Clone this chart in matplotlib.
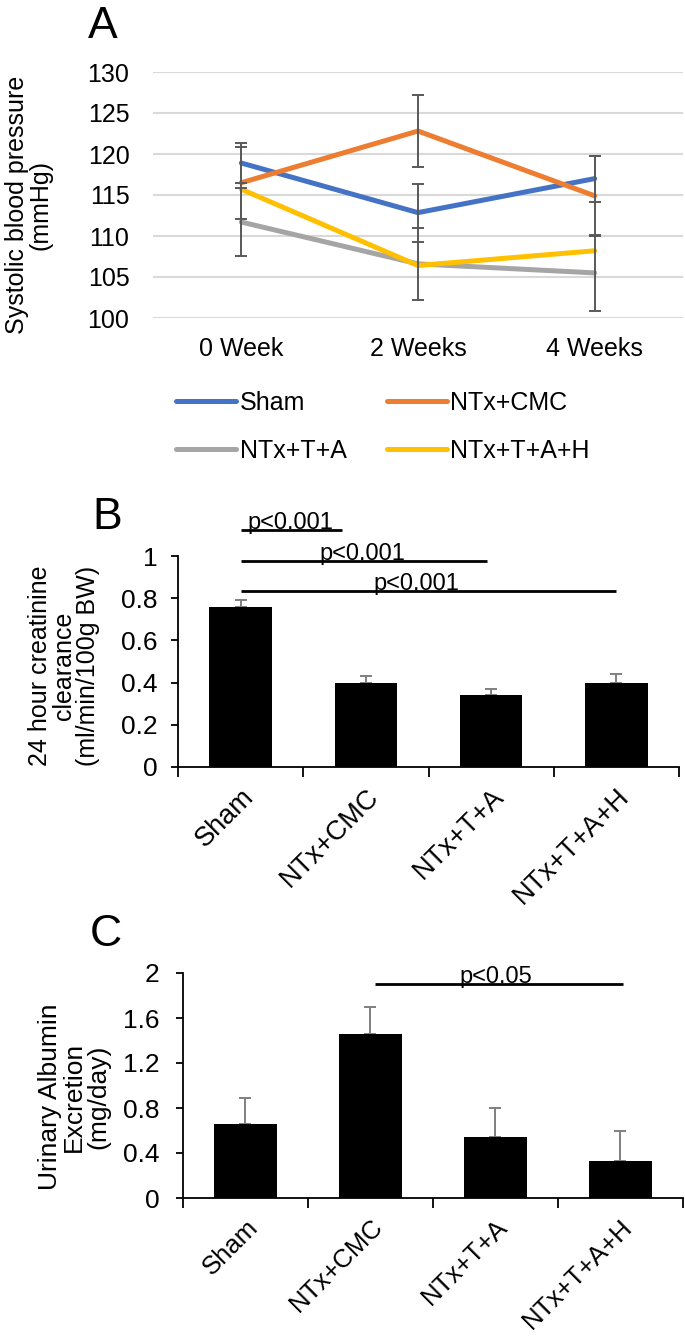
import matplotlib
matplotlib.use("Agg")
import matplotlib.pyplot as plt
import numpy as np

plt.rcParams['font.family'] = ['Liberation Sans', 'DejaVu Sans']

# panel A - systolic blood pressure
weeks = ["0 Week", "2 Weeks", "4 Weeks"]
sbp_sham = [118.9, 112.85, 117.0]
sbp_cmc = [116.5, 122.8, 114.9]
sbp_ta = [111.7, 106.6, 105.5]
sbp_tah = [115.7, 106.4, 108.2]
sbp_sham_err = [2.4, 3.55, 2.8]
sbp_cmc_err = [4.4, 4.4, 4.9]
sbp_ta_err = [4.1, 4.35, 4.6]

# panel B - creatinine clearance
groups = ["Sham", "NTx+CMC", "NTx+T+A", "NTx+T+A+H"]
ccr = [0.76, 0.40, 0.34, 0.40]
ccr_err = [0.03, 0.03, 0.03, 0.04]
ccr_sig = [(0, 0.81, 1.123, 0.40), (0, 1.97, 0.976, 0.97), (0, 3.0, 0.834, 1.40)]

# panel C - urinary albumin
uae = [0.66, 1.46, 0.54, 0.325]
uae_err = [0.23, 0.24, 0.26, 0.275]
uae_sig = [(1.04, 3.02, 1.906, 2.0)]

colors = {"Sham": "#4472C4", "NTx+CMC": "#ED7D31", "NTx+T+A": "#A5A5A5", "NTx+T+A+H": "#FFC000"}

W, H = 685, 1338
fig = plt.figure(figsize=(W / 100, H / 100), dpi=100)

def box(left, right, top, bottom):
    return [left / W, 1 - bottom / H, (right - left) / W, (bottom - top) / H]

# ---- A ----
ax = fig.add_axes(box(153, 683, 72, 318))
x = np.arange(len(weeks))
series = [("Sham", sbp_sham, sbp_sham_err), ("NTx+CMC", sbp_cmc, sbp_cmc_err),
          ("NTx+T+A", sbp_ta, sbp_ta_err), ("NTx+T+A+H", sbp_tah, None)]
lines = {}
for name, vals, err in series:
    l, = ax.plot(x, vals, color=colors[name], lw=3.6, solid_capstyle="round", zorder=3, label=name)
    lines[name] = l
    if err is not None:
        ax.errorbar(x, vals, yerr=err, fmt="none", ecolor="#595959", elinewidth=1.4,
                    capsize=4.5, capthick=1.4, zorder=4)
ax.set_ylim(100, 130)
ax.set_xlim(-0.5, 2.5)
ax.set_yticks(np.arange(100, 131, 5))
ax.set_xticks(x)
ax.set_xticklabels(weeks)
ax.grid(axis="y", color="#d9d9d9", lw=1.5)
ax.set_axisbelow(True)
for s in ax.spines.values():
    s.set_visible(False)
ax.tick_params(length=0, labelsize=18)
ax.tick_params(axis="y", pad=17)
ax.tick_params(axis="x", pad=14)
ax.set_ylabel("Systolic blood pressure\n(mmHg)", fontsize=18, linespacing=1.0)
ax.yaxis.set_label_coords(-0.189, 0.46)

# legend filled column-wise, so order gives rows Sham/CMC and T+A/T+A+H
order = ["Sham", "NTx+T+A", "NTx+CMC", "NTx+T+A+H"]
fig.legend(handles=[lines[k] for k in order], loc="upper left", bbox_to_anchor=(176 / W, 1 - 391 / H),
           ncol=2, frameon=False, fontsize=18, handlelength=2.4, handletextpad=0.15,
           columnspacing=1.6, labelspacing=0.95, borderpad=0, borderaxespad=0)

fig.text(88 / W, 1 - 38 / H, "A", fontsize=32)

# ---- bar panels ----
def bar_panel(ax, vals, errs, ymax, ystep, ylabel, label_x, label_y, ypad, lab_fs, xfs):
    xb = np.arange(len(groups))
    ax.bar(xb, vals, width=0.5, color="black", zorder=2)
    ax.errorbar(xb, vals, yerr=[np.zeros(len(vals)), errs], fmt="none", ecolor="#7f7f7f",
                elinewidth=1.4, capsize=4.5, capthick=1.4, zorder=1)
    ax.set_xlim(-0.5, 3.5)
    ax.set_ylim(0, ymax)
    ax.set_yticks(np.arange(0, ymax + 1e-9, ystep))
    ax.set_xticks(xb)
    ax.set_xticklabels(groups, rotation=45, ha="right", rotation_mode="anchor", fontsize=xfs)
    ax.set_xticks(np.arange(-0.5, 4, 1), minor=True)
    ax.tick_params(axis="x", which="major", length=0, pad=12)
    ax.tick_params(axis="x", which="minor", length=7, width=1.3, direction="out")
    ax.tick_params(axis="y", length=5, width=1.3, labelsize=19, pad=ypad)
    for s in ["top", "right"]:
        ax.spines[s].set_visible(False)
    for s in ["left", "bottom"]:
        ax.spines[s].set_linewidth(1.3)
    ax.set_ylabel(ylabel, fontsize=lab_fs, linespacing=1.0)
    ax.yaxis.set_label_coords(label_x, label_y)

def sig(ax, x0, x1, y, tx, text):
    ax.plot([x0, x1], [y, y], color="black", lw=2, clip_on=False, solid_capstyle="butt")
    ax.text(tx, y + 0.004 * ax.get_ylim()[1], text, ha="center", va="baseline", fontsize=17, clip_on=False)

axb = fig.add_axes(box(178, 679, 556, 767))
bar_panel(axb, ccr, ccr_err, 1.0, 0.2, "24 hour creatinine\nclearance\n(ml/min/100g BW)",
          -0.156, 0.48, 10, 18, 19.5)
axb.set_yticklabels(["0", "0.2", "0.4", "0.6", "0.8", "1"])
for x0, x1, y, tx in ccr_sig:
    sig(axb, x0, x1, y, tx, "p<0.001")
fig.text(92 / W, 1 - 529 / H, "B", fontsize=32)

axc = fig.add_axes(box(183, 683, 973, 1198))
bar_panel(axc, uae, uae_err, 2.0, 0.4, "Urinary Albumin\nExcretion\n(mg/day)",
          -0.146, 0.45, 12, 19, 18.5)
axc.set_yticklabels(["0", "0.4", "0.8", "1.2", "1.6", "2"])
for x0, x1, y, tx in uae_sig:
    sig(axc, x0, x1, y, tx, "p<0.05")
fig.text(90 / W, 1 - 946 / H, "C", fontsize=32)

fig.savefig("out.png", dpi=100)
